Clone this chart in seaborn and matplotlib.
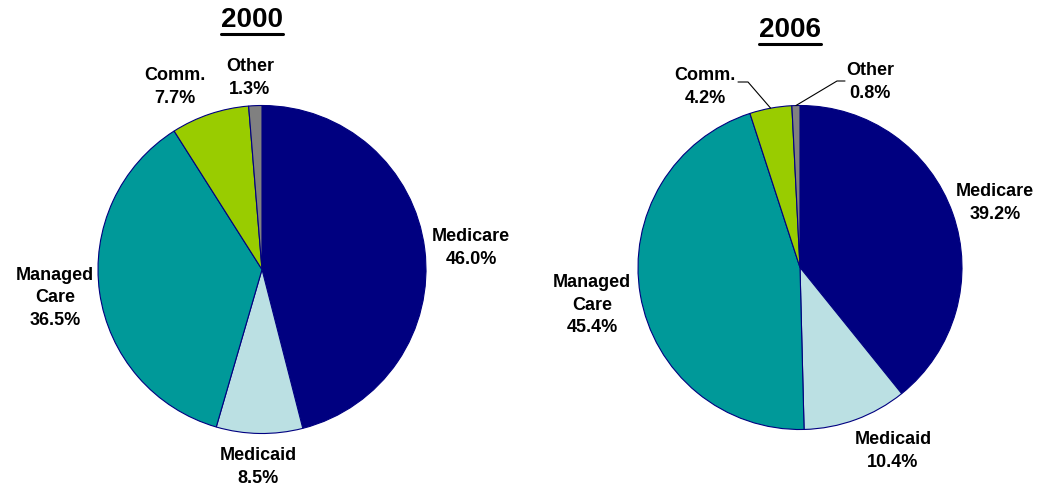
import numpy as np
import matplotlib
matplotlib.use('Agg')
import matplotlib.pyplot as plt
import seaborn as sns

sns.set_theme(style='white')
plt.rcParams['font.family'] = ['Liberation Sans', 'DejaVu Sans']
plt.rcParams['text.color'] = 'black'

categories = ['Medicare', 'Medicaid', 'Managed\nCare', 'Comm.', 'Other']
values_2000 = [46.0, 8.5, 36.5, 7.7, 1.3]
values_2006 = [39.2, 10.4, 45.4, 4.2, 0.8]
years = ['2000', '2006']
colors = ['#000080', '#BBE0E3', '#009999', '#99CC00', '#808080']

W, H = 1059, 488
fig = plt.figure(figsize=(W / 100, H / 100), dpi=100)
ax = fig.add_axes([0, 0, 1, 1])

# pie layout in pixel space (y measured from top)
pies = [
    dict(vals=values_2000, cx=262, cy=269.5, r=164, title=(252, 20),
         labels=[(471, 248), (258, 467), (55, 298), (175, 87), (250, 78)]),
    dict(vals=values_2006, cx=800, cy=267.5, r=162, title=(790, 30),
         labels=[(995, 203), (893, 451), (592, 305), (705, 87), (870, 82)]),
]

for year, p in zip(years, pies):
    ax.pie(p['vals'], colors=colors, startangle=90, counterclock=False,
           center=(p['cx'], H - p['cy']), radius=p['r'],
           wedgeprops=dict(edgecolor='#000080', linewidth=0.8))
    for cat, v, (lx, ly) in zip(categories, p['vals'], p['labels']):
        ax.text(lx, H - ly, f'{cat}\n{v:.1f}%', ha='center', va='center',
                fontsize=13, fontweight='bold', linespacing=1.4, color='black')
    tx, ty = p['title']
    ax.text(tx, H - ty, year, ha='center', va='center', fontsize=20,
            fontweight='bold', color='black')
    ax.plot([tx - 31, tx + 31], [H - ty - 14, H - ty - 14], color='black', lw=2.2)

# leader lines for small 2006 slices
p = pies[1]
cum = np.cumsum([0] + values_2006)
for i, (hx0, hx1, hy) in zip([3, 4], [(738, 748, 82), (845, 837, 81)]):
    mid = (cum[i] + cum[i + 1]) / 2 / 100
    ang = np.deg2rad(90 - mid * 360)
    ex = p['cx'] + p['r'] * np.cos(ang)
    ey = H - p['cy'] + p['r'] * np.sin(ang)
    ax.plot([hx0, hx1, ex], [H - hy, H - hy, ey], color='black', lw=0.8)

ax.set_xlim(0, W)
ax.set_ylim(0, H)
ax.set_aspect('equal')
ax.axis('off')
fig.savefig('out.png', dpi=100, facecolor='white')
